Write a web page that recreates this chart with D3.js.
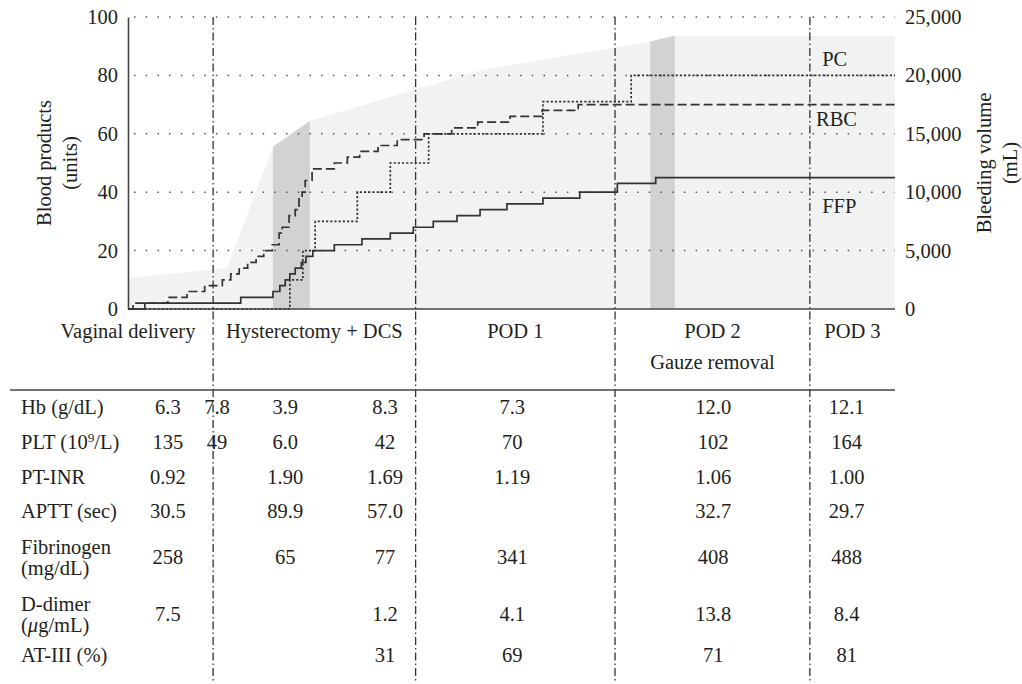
<!DOCTYPE html>
<html>
<head>
<meta charset="utf-8">
<script src="https://cdn.jsdelivr.net/npm/d3@7"></script>
<style>
body { margin: 0; background: #fff; }
text { font-family: "Liberation Serif", serif; fill: #231f20; }
</style>
</head>
<body>
<div id="chart"></div>
<script>
// time runs 0..100 across the plot (arbitrary units)
var phases = ["Vaginal delivery", "Hysterectomy + DCS", "POD 1", "POD 2", "POD 3"];
var phaseBreaks = [11.1, 37.5, 63.5, 88.9];
var phaseNote = "Gauze removal";

// bleeding volume (mL), right axis
var bleedTime = [0, 12.9, 18.9, 23.7, 26.3, 46.3, 68.1, 71.3, 100];
var bleedVolume = [2650, 3500, 13900, 16100, 16600, 20500, 22900, 23400, 23400];
var surgeries = [[18.9, 23.7], [68.1, 71.3]];

// cumulative blood products (units)
var rbcTime = [0, 0.65, 5.2, 7.7, 10.0, 12.3, 13.4, 14.5, 15.6, 16.7, 17.7, 18.8, 19.7, 20.1, 21.0, 21.8, 22.3, 22.7, 23.1, 24.0, 26.9, 28.6, 30.2, 32.6, 35.1, 38.6, 42.2, 45.6, 49.8, 54.0, 58.7, 100];
var rbcUnits = [0, 2, 4, 6, 8, 10, 12, 14, 16, 18, 20, 22, 26, 28, 32, 34, 38, 40, 44, 48, 50, 52, 54, 56, 58, 60, 62, 64, 66, 68, 70, 70];
var ffpTime = [0, 2.2, 14.7, 18.9, 19.8, 20.5, 21.1, 21.8, 22.6, 23.2, 24.1, 26.9, 30.5, 34.2, 37.2, 39.8, 42.9, 45.9, 49.4, 54.1, 58.9, 63.8, 68.8, 100];
var ffpUnits = [0, 2, 4, 6, 8, 10, 12, 14, 16, 18, 20, 22, 24, 26, 28, 30, 32, 34, 36, 38, 40, 43, 45, 45];
var pcTime = [0, 21.1, 22.8, 24.4, 29.9, 34.2, 39.2, 54.1, 65.6, 100];
var pcUnits = [0, 10, 20, 30, 40, 50, 60, 71, 80, 80];

var leftTicks = [0, 20, 40, 60, 80, 100];
var rightTicks = [0, 5000, 10000, 15000, 20000, 25000];

// lab table
var labTimes = [5.2, 11.6, 20.5, 33.5, 50.1, 76.3, 93.7];
var labNames = [["Hb (g/dL)"], ["PLT (10^9/L)"], ["PT-INR"], ["APTT (sec)"], ["Fibrinogen", "(mg/dL)"], ["D-dimer", "(~μ~g/mL)"], ["AT-III (%)"]];
var hb = ["6.3", "7.8", "3.9", "8.3", "7.3", "12.0", "12.1"];
var plt = ["135", "49", "6.0", "42", "70", "102", "164"];
var ptinr = ["0.92", "", "1.90", "1.69", "1.19", "1.06", "1.00"];
var aptt = ["30.5", "", "89.9", "57.0", "", "32.7", "29.7"];
var fib = ["258", "", "65", "77", "341", "408", "488"];
var ddimer = ["7.5", "", "", "1.2", "4.1", "13.8", "8.4"];
var at3 = ["", "", "", "31", "69", "71", "81"];
var labValues = [hb, plt, ptinr, aptt, fib, ddimer, at3];

var W = 1022, H = 684;
var fs = 20.5;
var ink = "#231f20", lineInk = "#333";

var svg = d3.select("#chart").append("svg")
  .attr("width", W).attr("height", H);

var x = d3.scaleLinear().domain([0, 100]).range([128, 895]);
var y = d3.scaleLinear().domain([0, 100]).range([309, 17]);
var y2 = d3.scaleLinear().domain([0, 25000]).range([309, 17]);

function zip(t, v) { return t.map(function(d, i) { return { t: d, v: v[i] }; }); }
var bleed = zip(bleedTime, bleedVolume);

// bleeding area
var area = d3.area()
  .x(function(d) { return x(d.t); })
  .y0(y2(0))
  .y1(function(d) { return y2(d.v); });
svg.append("path").datum(bleed)
  .attr("fill", "#f1f2f2").attr("d", area);
surgeries.forEach(function(s) {
  svg.append("path")
    .datum(bleed.filter(function(d) { return d.t >= s[0] && d.t <= s[1]; }))
    .attr("fill", "#d1d2d3").attr("d", area);
});

// dotted grid
svg.append("g").selectAll("line").data(leftTicks.slice(1)).enter().append("line")
  .attr("x1", x(0) + 6).attr("x2", x(100))
  .attr("y1", function(d) { return y(d); }).attr("y2", function(d) { return y(d); })
  .attr("stroke", "#555").attr("stroke-width", 1.5)
  .attr("stroke-dasharray", "1.5,10.2");

// axes
var axL = svg.append("g").attr("transform", "translate(" + x(0) + ",0)")
  .call(d3.axisLeft(y).tickValues(leftTicks).tickSize(0).tickSizeOuter(0).tickPadding(10));
axL.select(".domain").attr("stroke", "#444").attr("stroke-width", 1.6);
var axR = svg.append("g").attr("transform", "translate(" + x(100) + ",0)")
  .call(d3.axisRight(y2).tickValues(rightTicks).tickSize(0).tickPadding(10).tickFormat(d3.format(",")));
axR.select(".domain").remove();
svg.selectAll(".tick text")
  .attr("font-family", "Liberation Serif, serif").attr("font-size", fs).attr("fill", ink);

svg.append("line")
  .attr("x1", x(0)).attr("x2", x(100)).attr("y1", y(0)).attr("y2", y(0))
  .attr("stroke", "#444").attr("stroke-width", 1.6);

// blood product step lines
var step = d3.line()
  .x(function(d) { return x(d.t); })
  .y(function(d) { return y(d.v); })
  .curve(d3.curveStepAfter);
var series = [
  { name: "PC", data: zip(pcTime, pcUnits), dash: "2.2,2", dy: -9, dx: 90.5 },
  { name: "RBC", data: zip(rbcTime, rbcUnits), dash: "9,4", dy: 21, dx: 89.7 },
  { name: "FFP", data: zip(ffpTime, ffpUnits), dash: null, dy: 35, dx: 90.5 }
];
series.forEach(function(s) {
  svg.append("path").datum(s.data)
    .attr("fill", "none").attr("stroke", lineInk).attr("stroke-width", 1.7)
    .attr("stroke-dasharray", s.dash)
    .attr("d", step);
  var last = s.data[s.data.length - 1].v;
  svg.append("text")
    .attr("x", x(s.dx)).attr("y", y(last) + s.dy)
    .attr("font-size", fs).text(s.name);
});

// phase separators
svg.append("g").selectAll("line").data(phaseBreaks).enter().append("line")
  .attr("x1", function(d) { return x(d); }).attr("x2", function(d) { return x(d); })
  .attr("y1", y(100)).attr("y2", 682)
  .attr("stroke", lineInk).attr("stroke-width", 1.3)
  .attr("stroke-dasharray", "8,3,1.5,3");

// axis titles
function vtitle(lines, cy) {
  lines.forEach(function(l) {
    svg.append("text")
      .attr("transform", "translate(" + l[1] + "," + cy + ") rotate(-90)")
      .attr("text-anchor", "middle").attr("font-size", fs).text(l[0]);
  });
}
vtitle([["Blood products", 51], ["(units)", 77]], 163);
vtitle([["Bleeding volume", 991], ["(mL)", 1017]], 163);

// phase labels
var edges = [0].concat(phaseBreaks, [100]);
phases.forEach(function(p, i) {
  var cx = i === 0 ? x(0) : (x(edges[i]) + x(edges[i + 1])) / 2;
  svg.append("text").attr("x", cx).attr("y", 338)
    .attr("text-anchor", "middle").attr("font-size", fs).text(p);
});
svg.append("text").attr("x", (x(phaseBreaks[2]) + x(phaseBreaks[3])) / 2).attr("y", 369)
  .attr("text-anchor", "middle").attr("font-size", fs).text(phaseNote);

svg.append("line").attr("x1", 10).attr("x2", x(100)).attr("y1", 390).attr("y2", 390)
  .attr("stroke", "#444").attr("stroke-width", 1.6);

// table
var rowY = [407, 442, 477, 511, 557, 614, 655];
function richLine(sel, str) {
  var parts = str.split(/(\^9|~μ~)/);
  parts.forEach(function(p) {
    if (p === "^9") sel.append("tspan").attr("font-size", fs * 0.65).attr("baseline-shift", "super").text("9");
    else if (p === "~μ~") sel.append("tspan").attr("font-style", "italic").text("μ");
    else if (p) sel.append("tspan").text(p);
  });
}
labNames.forEach(function(lines, r) {
  lines.forEach(function(l, k) {
    var ly = rowY[r] + (k - (lines.length - 1) / 2) * 21;
    var t = svg.append("text").attr("x", 21).attr("y", ly)
      .attr("dy", "0.35em").attr("font-size", fs);
    richLine(t, l);
  });
  svg.append("g").selectAll("text").data(labValues[r]).enter().append("text")
    .attr("x", function(d, i) { return x(labTimes[i]); })
    .attr("y", rowY[r]).attr("dy", "0.35em")
    .attr("text-anchor", "middle").attr("font-size", fs)
    .text(function(d) { return d; });
});
</script>
</body>
</html>
